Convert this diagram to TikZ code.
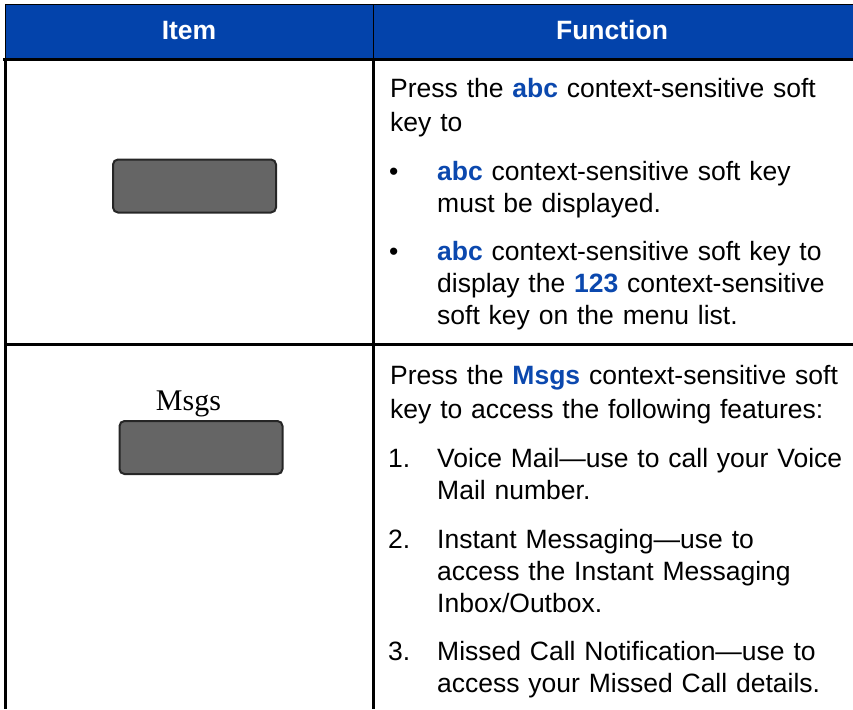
\documentclass[tikz,border=0pt]{standalone}
\usepackage{fontspec}
\setmainfont{Liberation Sans}
\newfontfamily\keyserif{Liberation Serif}
\usetikzlibrary{positioning}

\definecolor{hdrblue}{HTML}{0343AB}
\definecolor{keyblue}{HTML}{0B48AE}
\definecolor{keygray}{HTML}{656565}
\newcommand{\kw}[1]{\textbf{\textcolor{keyblue}{#1}}}

\begin{document}
\begin{tikzpicture}[x=1pt, y=-1pt,
  every node/.style={inner sep=0pt, font=\fontsize{26.5}{32}\selectfont},
  para/.style={anchor=base west, text width=470pt, align=left},
  bullmark/.style={anchor=base west},
  softkey/.style={draw=black!85, line width=2pt, fill=keygray, rounded corners=5pt,
    minimum width=163pt, minimum height=53pt}]
\useasboundingbox (0,0) rectangle (853,709);

% header
\fill[hdrblue] (5,5) rectangle (853,58);
\draw[line width=1pt] (853,5) -- (5,5) -- (5,58);
\draw[line width=1pt] (373.5,5) -- (373.5,58);
\node[anchor=base, text=white, font=\fontsize{26.5}{32}\selectfont\bfseries]
  (hitem) at (189,40) {Item};
\node[anchor=base, text=white, font=\fontsize{26.5}{32}\selectfont\bfseries]
  (hfunc) at (612,40) {Function};

% grid
\draw[line width=3pt] (3,59.5) -- (853,59.5);
\draw[line width=3pt] (5.5,58) -- (5.5,709);
\draw[line width=3pt] (373.5,58) -- (373.5,709);
\draw[line width=3pt] (5.5,344.5) -- (853,344.5);

% row 1: abc key
\node[softkey] (key1) at (194.5,186) {};
\node[para] (p1) at (390,97.7) {Press the \kw{abc} context-sensitive soft\\[2pt]key to};
\node[bullmark] (dot1) at (389,180.7) {•};
\node[para] (b1) at (437,180.7) {\kw{abc} context-sensitive soft key\\must be displayed.};
\node[bullmark] (dot2) at (389,260.7) {•};
\node[para] (b2) at (437,260.7) {\kw{abc} context-sensitive soft key to\\display the \kw{123} context-sensitive\\soft key on the menu list.};

% row 2: Msgs key
\node[softkey] (key2) at (201,447.5) {};
\node[anchor=base, font=\keyserif\fontsize{30}{36}\selectfont] (msgs) at (188.5,410) {Msgs};
\node[para] (p2) at (390,384) {Press the \kw{Msgs} context-sensitive soft\\[2pt]key to access the following features:};
\node[bullmark] (num1) at (388,467) {1.};
\node[para] (t1) at (437,467) {Voice Mail---use to call your Voice\\Mail number.};
\node[bullmark] (num2) at (388,548) {2.};
\node[para] (t2) at (437,548) {Instant Messaging---use to\\access the Instant Messaging\\Inbox/Outbox.};
\node[bullmark] (num3) at (388,660) {3.};
\node[para] (t3) at (437,660) {Missed Call Notification---use to\\access your Missed Call details.};
\end{tikzpicture}
\end{document}
